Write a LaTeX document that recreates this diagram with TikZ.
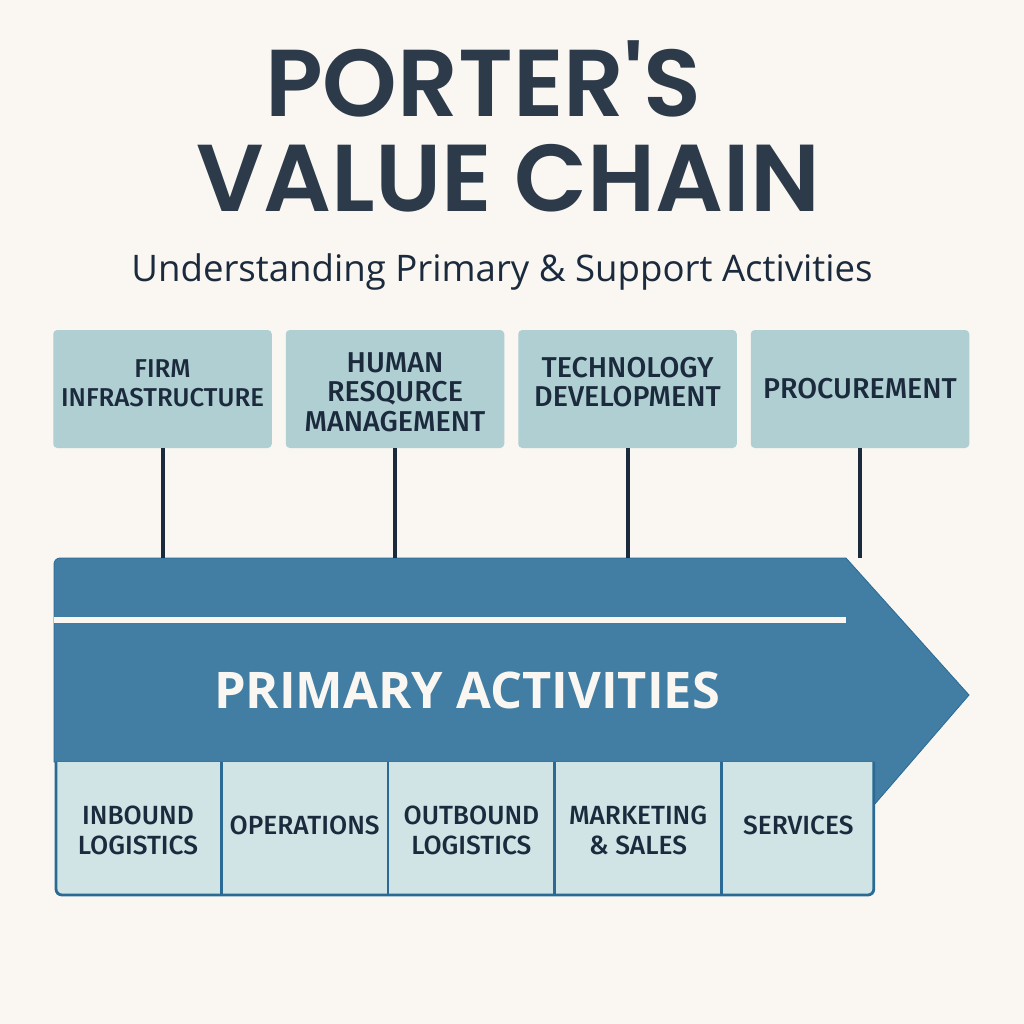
\documentclass[tikz,border=0pt]{standalone}
\usepackage{fontspec}
\setmainfont{Open Sans}
\newfontfamily\titlefont{Poppins SemiBold}
\newfontfamily\boxfont{Fira Sans Medium}
\usetikzlibrary{calc,positioning}
\definecolor{paper}{HTML}{FAF7F2}
\definecolor{ink}{HTML}{1B2A3C}
\definecolor{titleInk}{HTML}{2C3A4A}
\definecolor{supportFill}{HTML}{AFCFD2}
\definecolor{chainFill}{HTML}{427DA3}
\definecolor{chainEdge}{HTML}{2A6A94}
\definecolor{cellFill}{HTML}{D0E4E5}
\tikzstyle{title line}=[text=titleInk,inner sep=0pt,font=\titlefont\fontsize{95}{95}\selectfont]
\tikzstyle{support box}=[fill=supportFill,rounded corners=4pt,minimum width=218.5pt,minimum height=118pt,inner sep=0pt,outer sep=0pt,align=center,text=ink,font=\boxfont\fontsize{28.7}{29.5}\selectfont]
\tikzstyle{activity cell}=[fill=cellFill,minimum width=164pt,minimum height=133pt,inner sep=0pt,outer sep=0pt,align=center,text=ink,font=\boxfont\fontsize{26.3}{30}\selectfont]
\tikzstyle{support link}=[draw=ink,line width=4pt]
\tikzstyle{cell line}=[draw=chainEdge,line width=2.8pt]
\begin{document}
\begin{tikzpicture}[x=1pt,y=-1pt]
  \useasboundingbox[fill=paper] (0,0) rectangle (1024,1024);

  \node[title line,anchor=base] (titleTop) at (483,117) {PORTER'S};
  \node[title line,anchor=base] (titleBottom) at (508,212) {VALUE CHAIN};
  \node[text=ink,font=\fontsize{36.6}{40}\selectfont] (subtitle) at (502,272) {Understanding Primary \& Support Activities};

  \node[support box,font=\boxfont\fontsize{25.8}{29.5}\selectfont] (firmBox) at (162.5,389) {FIRM\\INFRASTRUCTURE\\[-17.5pt]};
  \node[support box, right = 14pt of firmBox] (humanBox) {HUMAN\\RESQURCE\\MANAGEMENT\\[-35.5pt]};
  \node[support box, right = 14pt of humanBox] (techBox) {TECHNOLOGY\\DEVELOPMENT\\[-15.5pt]};
  \node[support box, right = 14pt of techBox] (procBox) {PROCUREMENT};

  \coordinate (chainTop) at (54,558);
  \coordinate (chainTip) at (969,695);
  \coordinate (chainBase) at (54,762);
  \fill[chainFill,draw=chainEdge,line width=0.8pt] (chainBase) [rounded corners=6pt] -- (chainTop) -- (120,558) [sharp corners] -- (846,558) -- (chainTip) -- (874,805) -- (874,762) -- cycle;
  \node[text=paper,font=\fontsize{50.5}{52}\selectfont\bfseries] (primaryLabel) at (467,690) {PRIMARY ACTIVITIES};

  \coordinate (ruleStart) at (54,619.5);
  \coordinate (ruleEnd) at (846,619.5);
  \draw[paper,line width=6pt] (ruleStart) -- (ruleEnd);

  \draw[support link] (firmBox.south) -- (firmBox.south |- chainTop);
  \draw[support link] (humanBox.south) -- (humanBox.south |- chainTop);
  \draw[support link] (techBox.south) -- (techBox.south |- chainTop);
  \draw[support link] (procBox.south) -- (procBox.south |- chainTop);

  \node[activity cell] (inbound) at (138,828.5) {INBOUND\\LOGISTICS\\[-34pt]};
  \node[activity cell, right = 2.7pt of inbound] (operations) {OPERATIONS\\[-24pt]};
  \node[activity cell, right = 2.7pt of operations] (outbound) {OUTBOUND\\LOGISTICS\\[-34pt]};
  \node[activity cell, right = 2.7pt of outbound] (marketing) {MARKETING\\\& SALES\\[-34pt]};
  \node[activity cell, minimum width=151pt, right = 2.7pt of marketing] (services) {SERVICES\\[-24pt]};

  \draw[cell line] (inbound.north east) ++(1.3,0) -- ++(0,133);
  \draw[cell line] (operations.north east) ++(1.3,0) -- ++(0,133);
  \draw[cell line] (outbound.north east) ++(1.3,0) -- ++(0,133);
  \draw[cell line] (marketing.north east) ++(1.3,0) -- ++(0,133);
  \draw[cell line,rounded corners=6pt] (inbound.north west) -- (inbound.south west) -- (services.south east) -- (services.north east);
\end{tikzpicture}
\end{document}
